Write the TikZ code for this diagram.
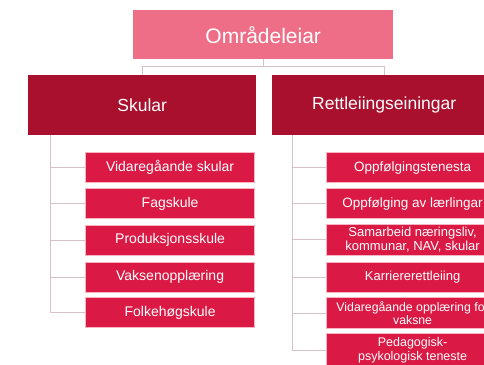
\documentclass[tikz,border=0pt]{standalone}
\usepackage{fontspec}
\setmainfont{Liberation Sans}
\definecolor{topc}{HTML}{EE6E88}
\definecolor{midc}{HTML}{A8102E}
\definecolor{kidc}{HTML}{DA1A45}
\definecolor{kidb}{HTML}{F7B5C2}
\definecolor{linec}{HTML}{D6C2C6}
\tikzset{
  topbox/.style={fill=topc, text=white, inner sep=0pt, anchor=north west, font=\fontsize{21}{24}\selectfont},
  midbox/.style={fill=midc, text=white, inner sep=0pt, anchor=north west, font=\fontsize{17.5}{20}\selectfont},
  kidbox/.style={fill=kidc, draw=kidb, line width=1.2pt, text=white, inner sep=0pt, anchor=north west, align=center, minimum height=30pt},
  conn/.style={draw=linec, line width=1pt},
}
\begin{document}
\begin{tikzpicture}[x=1pt,y=-1pt]
\clip (0,0) rectangle (484,364);
\fill[white] (0,0) rectangle (484,364);
% top
\node[topbox, minimum width=260pt, minimum height=49pt] (top) at (133,10) {Områdeleiar};
% second level
\node[midbox, minimum width=228pt, minimum height=60pt] (sk) at (28,75) {Skular};
\node[midbox, minimum width=224pt, minimum height=60pt] (rt) at (272,75) {Rettleiingseiningar};
% left children
\begin{scope}[every node/.append style={kidbox, minimum width=169pt, font=\fontsize{14}{16}\selectfont}]
\node (l1) at (85,152) {Vidaregåande skular};
\node (l2) at (85,188) {Fagskule};
\node (l3) at (85,224.5) {Produksjonsskule};
\node (l4) at (85,261.5) {Vaksenopplæring};
\node (l5) at (85,297) {Folkehøgskule};
\end{scope}
% right children
\begin{scope}[every node/.append style={kidbox, minimum width=172pt}]
\node[font=\fontsize{13.5}{15}\selectfont] (r1) at (326,152) {Oppfølgingstenesta};
\node[font=\fontsize{13.5}{15}\selectfont] (r2) at (326,188) {Oppfølging av lærlingar};
\node[font=\fontsize{13}{14.5}\selectfont, minimum height=31pt] (r3) at (326,223.5) {Samarbeid næringsliv,\\kommunar, NAV, skular};
\node[font=\fontsize{13}{15}\selectfont] (r4) at (326,262) {Karriererettleiing};
\node[font=\fontsize{12.3}{12.5}\selectfont, minimum height=31pt] (r5) at (326,297) {Vidaregåande opplæring for\\vaksne};
\node[font=\fontsize{12.5}{14}\selectfont, minimum height=34pt] (r6) at (326,333) {Pedagogisk-\\psykologisk teneste};
\end{scope}
% connectors top
\coordinate (bar) at (0,66);
\draw[conn] (top.south) -- (top.south |- bar);
\draw[conn] (sk.north) -- (sk.north |- bar) -- (rt.north |- bar) -- (rt.north);
% left tree
\coordinate (ls) at (50,135);
\draw[conn] (ls) -- (ls |- l5.west);
\foreach \n in {l1,l2,l3,l4,l5} \draw[conn] (\n.west) -- (\n.west -| ls);
% right tree
\coordinate (rs) at (292,135);
\draw[conn] (rs) -- (rs |- r6.west);
\foreach \n in {r1,r2,r3,r4,r5,r6} \draw[conn] (\n.west) -- (\n.west -| rs);
\end{tikzpicture}
\end{document}
